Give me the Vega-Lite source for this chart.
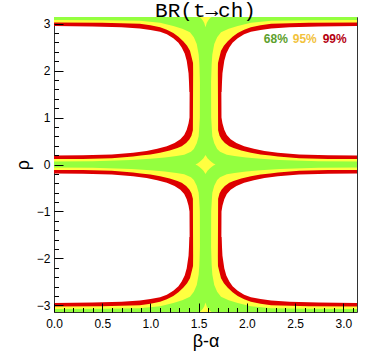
{
"$schema":"https://vega.github.io/schema/vega-lite/v6.json",
"width":303,"height":295,"autosize":"none",
"padding":{"left":54,"top":17,"right":34,"bottom":39},
"background":"white",
"title":{"text":"BR(t→ch)","font":"Liberation Mono","fontSize":21,"fontWeight":"normal","anchor":"middle","offset":-4,"color":"black"},
"config":{"view":{"stroke":"#333","strokeWidth":1}},
"datasets":{
"bands":[
{"l":"99","b":"c","x":0,"lo":-0.19,"hi":0.19},
{"l":"99","b":"c","x":0.3,"lo":-0.195,"hi":0.195},
{"l":"99","b":"c","x":0.6,"lo":-0.215,"hi":0.215},
{"l":"99","b":"c","x":0.82,"lo":-0.25,"hi":0.25},
{"l":"99","b":"c","x":0.96,"lo":-0.29,"hi":0.29},
{"l":"99","b":"c","x":1.07,"lo":-0.335,"hi":0.335},
{"l":"99","b":"c","x":1.17,"lo":-0.39,"hi":0.39},
{"l":"99","b":"c","x":1.25,"lo":-0.46,"hi":0.46},
{"l":"99","b":"c","x":1.31,"lo":-0.54,"hi":0.54},
{"l":"99","b":"c","x":1.35,"lo":-0.63,"hi":0.63},
{"l":"99","b":"c","x":1.376,"lo":-0.74,"hi":0.74},
{"l":"99","b":"c","x":1.395,"lo":-0.88,"hi":0.88},
{"l":"99","b":"c","x":1.405,"lo":-1.0,"hi":1.0},
{"l":"99","b":"c","x":1.41,"lo":-3.1416,"hi":3.1416},
{"l":"99","b":"c","x":1.7316,"lo":-3.1416,"hi":3.1416},
{"l":"99","b":"c","x":1.7366,"lo":-1.0,"hi":1.0},
{"l":"99","b":"c","x":1.7466,"lo":-0.88,"hi":0.88},
{"l":"99","b":"c","x":1.7656,"lo":-0.74,"hi":0.74},
{"l":"99","b":"c","x":1.7916,"lo":-0.63,"hi":0.63},
{"l":"99","b":"c","x":1.8316,"lo":-0.54,"hi":0.54},
{"l":"99","b":"c","x":1.8916,"lo":-0.46,"hi":0.46},
{"l":"99","b":"c","x":1.9716,"lo":-0.39,"hi":0.39},
{"l":"99","b":"c","x":2.0716,"lo":-0.335,"hi":0.335},
{"l":"99","b":"c","x":2.1816,"lo":-0.29,"hi":0.29},
{"l":"99","b":"c","x":2.3216,"lo":-0.25,"hi":0.25},
{"l":"99","b":"c","x":2.5416,"lo":-0.215,"hi":0.215},
{"l":"99","b":"c","x":2.8416,"lo":-0.195,"hi":0.195},
{"l":"99","b":"c","x":3.1416,"lo":-0.19,"hi":0.19},
{"l":"99","b":"t","x":0,"lo":2.9516,"hi":3.1416},
{"l":"99","b":"t","x":0.4,"lo":2.9416,"hi":3.1416},
{"l":"99","b":"t","x":0.7,"lo":2.9216,"hi":3.1416},
{"l":"99","b":"t","x":0.89,"lo":2.8966,"hi":3.1416},
{"l":"99","b":"t","x":1.0,"lo":2.8666,"hi":3.1416},
{"l":"99","b":"t","x":1.1,"lo":2.8266,"hi":3.1416},
{"l":"99","b":"t","x":1.17,"lo":2.7716,"hi":3.1416},
{"l":"99","b":"t","x":1.237,"lo":2.6916,"hi":3.1416},
{"l":"99","b":"t","x":1.29,"lo":2.5916,"hi":3.1416},
{"l":"99","b":"t","x":1.324,"lo":2.4946,"hi":3.1416},
{"l":"99","b":"t","x":1.355,"lo":2.3616,"hi":3.1416},
{"l":"99","b":"t","x":1.376,"lo":2.2116,"hi":3.1416},
{"l":"99","b":"t","x":1.395,"lo":1.9416,"hi":3.1416},
{"l":"99","b":"t","x":1.405,"lo":1.5416,"hi":3.1416},
{"l":"99","b":"t","x":1.7366,"lo":1.5416,"hi":3.1416},
{"l":"99","b":"t","x":1.7466,"lo":1.9416,"hi":3.1416},
{"l":"99","b":"t","x":1.7656,"lo":2.2116,"hi":3.1416},
{"l":"99","b":"t","x":1.7866,"lo":2.3616,"hi":3.1416},
{"l":"99","b":"t","x":1.8176,"lo":2.4946,"hi":3.1416},
{"l":"99","b":"t","x":1.8516,"lo":2.5916,"hi":3.1416},
{"l":"99","b":"t","x":1.9046,"lo":2.6916,"hi":3.1416},
{"l":"99","b":"t","x":1.9716,"lo":2.7716,"hi":3.1416},
{"l":"99","b":"t","x":2.0416,"lo":2.8266,"hi":3.1416},
{"l":"99","b":"t","x":2.1416,"lo":2.8666,"hi":3.1416},
{"l":"99","b":"t","x":2.2516,"lo":2.8966,"hi":3.1416},
{"l":"99","b":"t","x":2.4416,"lo":2.9216,"hi":3.1416},
{"l":"99","b":"t","x":2.7416,"lo":2.9416,"hi":3.1416},
{"l":"99","b":"t","x":3.1416,"lo":2.9516,"hi":3.1416},
{"l":"99","b":"bt","x":0,"lo":-3.1416,"hi":-2.9516},
{"l":"99","b":"bt","x":0.4,"lo":-3.1416,"hi":-2.9416},
{"l":"99","b":"bt","x":0.7,"lo":-3.1416,"hi":-2.9216},
{"l":"99","b":"bt","x":0.89,"lo":-3.1416,"hi":-2.8966},
{"l":"99","b":"bt","x":1.0,"lo":-3.1416,"hi":-2.8666},
{"l":"99","b":"bt","x":1.1,"lo":-3.1416,"hi":-2.8266},
{"l":"99","b":"bt","x":1.17,"lo":-3.1416,"hi":-2.7716},
{"l":"99","b":"bt","x":1.237,"lo":-3.1416,"hi":-2.6916},
{"l":"99","b":"bt","x":1.29,"lo":-3.1416,"hi":-2.5916},
{"l":"99","b":"bt","x":1.324,"lo":-3.1416,"hi":-2.4946},
{"l":"99","b":"bt","x":1.355,"lo":-3.1416,"hi":-2.3616},
{"l":"99","b":"bt","x":1.376,"lo":-3.1416,"hi":-2.2116},
{"l":"99","b":"bt","x":1.395,"lo":-3.1416,"hi":-1.9416},
{"l":"99","b":"bt","x":1.405,"lo":-3.1416,"hi":-1.5416},
{"l":"99","b":"bt","x":1.7366,"lo":-3.1416,"hi":-1.5416},
{"l":"99","b":"bt","x":1.7466,"lo":-3.1416,"hi":-1.9416},
{"l":"99","b":"bt","x":1.7656,"lo":-3.1416,"hi":-2.2116},
{"l":"99","b":"bt","x":1.7866,"lo":-3.1416,"hi":-2.3616},
{"l":"99","b":"bt","x":1.8176,"lo":-3.1416,"hi":-2.4946},
{"l":"99","b":"bt","x":1.8516,"lo":-3.1416,"hi":-2.5916},
{"l":"99","b":"bt","x":1.9046,"lo":-3.1416,"hi":-2.6916},
{"l":"99","b":"bt","x":1.9716,"lo":-3.1416,"hi":-2.7716},
{"l":"99","b":"bt","x":2.0416,"lo":-3.1416,"hi":-2.8266},
{"l":"99","b":"bt","x":2.1416,"lo":-3.1416,"hi":-2.8666},
{"l":"99","b":"bt","x":2.2516,"lo":-3.1416,"hi":-2.8966},
{"l":"99","b":"bt","x":2.4416,"lo":-3.1416,"hi":-2.9216},
{"l":"99","b":"bt","x":2.7416,"lo":-3.1416,"hi":-2.9416},
{"l":"99","b":"bt","x":3.1416,"lo":-3.1416,"hi":-2.9516},
{"l":"95","b":"c","x":0,"lo":-0.115,"hi":0.115},
{"l":"95","b":"c","x":0.3,"lo":-0.118,"hi":0.118},
{"l":"95","b":"c","x":0.6,"lo":-0.133,"hi":0.133},
{"l":"95","b":"c","x":0.82,"lo":-0.17,"hi":0.17},
{"l":"95","b":"c","x":0.9,"lo":-0.19,"hi":0.19},
{"l":"95","b":"c","x":1.0,"lo":-0.215,"hi":0.215},
{"l":"95","b":"c","x":1.1,"lo":-0.25,"hi":0.25},
{"l":"95","b":"c","x":1.2,"lo":-0.3,"hi":0.3},
{"l":"95","b":"c","x":1.28,"lo":-0.35,"hi":0.35},
{"l":"95","b":"c","x":1.324,"lo":-0.39,"hi":0.39},
{"l":"95","b":"c","x":1.37,"lo":-0.46,"hi":0.46},
{"l":"95","b":"c","x":1.403,"lo":-0.53,"hi":0.53},
{"l":"95","b":"c","x":1.425,"lo":-0.61,"hi":0.61},
{"l":"95","b":"c","x":1.44,"lo":-0.73,"hi":0.73},
{"l":"95","b":"c","x":1.445,"lo":-3.1416,"hi":3.1416},
{"l":"95","b":"c","x":1.6966,"lo":-3.1416,"hi":3.1416},
{"l":"95","b":"c","x":1.7016,"lo":-0.73,"hi":0.73},
{"l":"95","b":"c","x":1.7166,"lo":-0.61,"hi":0.61},
{"l":"95","b":"c","x":1.7386,"lo":-0.53,"hi":0.53},
{"l":"95","b":"c","x":1.7716,"lo":-0.46,"hi":0.46},
{"l":"95","b":"c","x":1.8176,"lo":-0.39,"hi":0.39},
{"l":"95","b":"c","x":1.8616,"lo":-0.35,"hi":0.35},
{"l":"95","b":"c","x":1.9416,"lo":-0.3,"hi":0.3},
{"l":"95","b":"c","x":2.0416,"lo":-0.25,"hi":0.25},
{"l":"95","b":"c","x":2.1416,"lo":-0.215,"hi":0.215},
{"l":"95","b":"c","x":2.2416,"lo":-0.19,"hi":0.19},
{"l":"95","b":"c","x":2.3216,"lo":-0.17,"hi":0.17},
{"l":"95","b":"c","x":2.5416,"lo":-0.133,"hi":0.133},
{"l":"95","b":"c","x":2.8416,"lo":-0.118,"hi":0.118},
{"l":"95","b":"c","x":3.1416,"lo":-0.115,"hi":0.115},
{"l":"95","b":"t","x":0,"lo":3.0266,"hi":3.1416},
{"l":"95","b":"t","x":0.5,"lo":3.0216,"hi":3.1416},
{"l":"95","b":"t","x":0.89,"lo":2.9966,"hi":3.1416},
{"l":"95","b":"t","x":1.0,"lo":2.9666,"hi":3.1416},
{"l":"95","b":"t","x":1.1,"lo":2.9216,"hi":3.1416},
{"l":"95","b":"t","x":1.17,"lo":2.8716,"hi":3.1416},
{"l":"95","b":"t","x":1.237,"lo":2.8016,"hi":3.1416},
{"l":"95","b":"t","x":1.29,"lo":2.7216,"hi":3.1416},
{"l":"95","b":"t","x":1.34,"lo":2.6256,"hi":3.1416},
{"l":"95","b":"t","x":1.38,"lo":2.5316,"hi":3.1416},
{"l":"95","b":"t","x":1.41,"lo":2.4216,"hi":3.1416},
{"l":"95","b":"t","x":1.444,"lo":2.1416,"hi":3.1416},
{"l":"95","b":"t","x":1.455,"lo":1.8416,"hi":3.1416},
{"l":"95","b":"t","x":1.46,"lo":1.5416,"hi":3.1416},
{"l":"95","b":"t","x":1.6816,"lo":1.5416,"hi":3.1416},
{"l":"95","b":"t","x":1.6866,"lo":1.8416,"hi":3.1416},
{"l":"95","b":"t","x":1.6976,"lo":2.1416,"hi":3.1416},
{"l":"95","b":"t","x":1.7316,"lo":2.4216,"hi":3.1416},
{"l":"95","b":"t","x":1.7616,"lo":2.5316,"hi":3.1416},
{"l":"95","b":"t","x":1.8016,"lo":2.6256,"hi":3.1416},
{"l":"95","b":"t","x":1.8516,"lo":2.7216,"hi":3.1416},
{"l":"95","b":"t","x":1.9046,"lo":2.8016,"hi":3.1416},
{"l":"95","b":"t","x":1.9716,"lo":2.8716,"hi":3.1416},
{"l":"95","b":"t","x":2.0416,"lo":2.9216,"hi":3.1416},
{"l":"95","b":"t","x":2.1416,"lo":2.9666,"hi":3.1416},
{"l":"95","b":"t","x":2.2516,"lo":2.9966,"hi":3.1416},
{"l":"95","b":"t","x":2.6416,"lo":3.0216,"hi":3.1416},
{"l":"95","b":"t","x":3.1416,"lo":3.0266,"hi":3.1416},
{"l":"95","b":"bt","x":0,"lo":-3.1416,"hi":-3.0266},
{"l":"95","b":"bt","x":0.5,"lo":-3.1416,"hi":-3.0216},
{"l":"95","b":"bt","x":0.89,"lo":-3.1416,"hi":-2.9966},
{"l":"95","b":"bt","x":1.0,"lo":-3.1416,"hi":-2.9666},
{"l":"95","b":"bt","x":1.1,"lo":-3.1416,"hi":-2.9216},
{"l":"95","b":"bt","x":1.17,"lo":-3.1416,"hi":-2.8716},
{"l":"95","b":"bt","x":1.237,"lo":-3.1416,"hi":-2.8016},
{"l":"95","b":"bt","x":1.29,"lo":-3.1416,"hi":-2.7216},
{"l":"95","b":"bt","x":1.34,"lo":-3.1416,"hi":-2.6256},
{"l":"95","b":"bt","x":1.38,"lo":-3.1416,"hi":-2.5316},
{"l":"95","b":"bt","x":1.41,"lo":-3.1416,"hi":-2.4216},
{"l":"95","b":"bt","x":1.444,"lo":-3.1416,"hi":-2.1416},
{"l":"95","b":"bt","x":1.455,"lo":-3.1416,"hi":-1.8416},
{"l":"95","b":"bt","x":1.46,"lo":-3.1416,"hi":-1.5416},
{"l":"95","b":"bt","x":1.6816,"lo":-3.1416,"hi":-1.5416},
{"l":"95","b":"bt","x":1.6866,"lo":-3.1416,"hi":-1.8416},
{"l":"95","b":"bt","x":1.6976,"lo":-3.1416,"hi":-2.1416},
{"l":"95","b":"bt","x":1.7316,"lo":-3.1416,"hi":-2.4216},
{"l":"95","b":"bt","x":1.7616,"lo":-3.1416,"hi":-2.5316},
{"l":"95","b":"bt","x":1.8016,"lo":-3.1416,"hi":-2.6256},
{"l":"95","b":"bt","x":1.8516,"lo":-3.1416,"hi":-2.7216},
{"l":"95","b":"bt","x":1.9046,"lo":-3.1416,"hi":-2.8016},
{"l":"95","b":"bt","x":1.9716,"lo":-3.1416,"hi":-2.8716},
{"l":"95","b":"bt","x":2.0416,"lo":-3.1416,"hi":-2.9216},
{"l":"95","b":"bt","x":2.1416,"lo":-3.1416,"hi":-2.9666},
{"l":"95","b":"bt","x":2.2516,"lo":-3.1416,"hi":-2.9966},
{"l":"95","b":"bt","x":2.6416,"lo":-3.1416,"hi":-3.0216},
{"l":"95","b":"bt","x":3.1416,"lo":-3.1416,"hi":-3.0266},
{"l":"68","b":"c","x":0,"lo":-0.065,"hi":0.065},
{"l":"68","b":"c","x":0.4,"lo":-0.07,"hi":0.07},
{"l":"68","b":"c","x":0.8,"lo":-0.095,"hi":0.095},
{"l":"68","b":"c","x":1.0,"lo":-0.12,"hi":0.12},
{"l":"68","b":"c","x":1.15,"lo":-0.15,"hi":0.15},
{"l":"68","b":"c","x":1.27,"lo":-0.18,"hi":0.18},
{"l":"68","b":"c","x":1.35,"lo":-0.21,"hi":0.21},
{"l":"68","b":"c","x":1.42,"lo":-0.27,"hi":0.27},
{"l":"68","b":"c","x":1.45,"lo":-0.33,"hi":0.33},
{"l":"68","b":"c","x":1.48,"lo":-0.45,"hi":0.45},
{"l":"68","b":"c","x":1.5,"lo":-0.6,"hi":0.6},
{"l":"68","b":"c","x":1.505,"lo":-0.75,"hi":0.75},
{"l":"68","b":"c","x":1.512,"lo":-1.0,"hi":1.0},
{"l":"68","b":"c","x":1.515,"lo":-3.1416,"hi":3.1416},
{"l":"68","b":"c","x":1.6266,"lo":-3.1416,"hi":3.1416},
{"l":"68","b":"c","x":1.6296,"lo":-1.0,"hi":1.0},
{"l":"68","b":"c","x":1.6366,"lo":-0.75,"hi":0.75},
{"l":"68","b":"c","x":1.6416,"lo":-0.6,"hi":0.6},
{"l":"68","b":"c","x":1.6616,"lo":-0.45,"hi":0.45},
{"l":"68","b":"c","x":1.6916,"lo":-0.33,"hi":0.33},
{"l":"68","b":"c","x":1.7216,"lo":-0.27,"hi":0.27},
{"l":"68","b":"c","x":1.7916,"lo":-0.21,"hi":0.21},
{"l":"68","b":"c","x":1.8716,"lo":-0.18,"hi":0.18},
{"l":"68","b":"c","x":1.9916,"lo":-0.15,"hi":0.15},
{"l":"68","b":"c","x":2.1416,"lo":-0.12,"hi":0.12},
{"l":"68","b":"c","x":2.3416,"lo":-0.095,"hi":0.095},
{"l":"68","b":"c","x":2.7416,"lo":-0.07,"hi":0.07},
{"l":"68","b":"c","x":3.1416,"lo":-0.065,"hi":0.065},
{"l":"68","b":"t","x":0,"lo":3.0766,"hi":3.1416},
{"l":"68","b":"t","x":0.5,"lo":3.0736,"hi":3.1416},
{"l":"68","b":"t","x":0.89,"lo":3.0616,"hi":3.1416},
{"l":"68","b":"t","x":1.1,"lo":3.0166,"hi":3.1416},
{"l":"68","b":"t","x":1.237,"lo":2.9516,"hi":3.1416},
{"l":"68","b":"t","x":1.33,"lo":2.8916,"hi":3.1416},
{"l":"68","b":"t","x":1.41,"lo":2.8146,"hi":3.1416},
{"l":"68","b":"t","x":1.45,"lo":2.7116,"hi":3.1416},
{"l":"68","b":"t","x":1.48,"lo":2.5646,"hi":3.1416},
{"l":"68","b":"t","x":1.5,"lo":2.3416,"hi":3.1416},
{"l":"68","b":"t","x":1.507,"lo":2.1416,"hi":3.1416},
{"l":"68","b":"t","x":1.514,"lo":1.7416,"hi":3.1416},
{"l":"68","b":"t","x":1.518,"lo":1.5416,"hi":3.1416},
{"l":"68","b":"t","x":1.6236,"lo":1.5416,"hi":3.1416},
{"l":"68","b":"t","x":1.6276,"lo":1.7416,"hi":3.1416},
{"l":"68","b":"t","x":1.6346,"lo":2.1416,"hi":3.1416},
{"l":"68","b":"t","x":1.6416,"lo":2.3416,"hi":3.1416},
{"l":"68","b":"t","x":1.6616,"lo":2.5646,"hi":3.1416},
{"l":"68","b":"t","x":1.6916,"lo":2.7116,"hi":3.1416},
{"l":"68","b":"t","x":1.7316,"lo":2.8146,"hi":3.1416},
{"l":"68","b":"t","x":1.8116,"lo":2.8916,"hi":3.1416},
{"l":"68","b":"t","x":1.9046,"lo":2.9516,"hi":3.1416},
{"l":"68","b":"t","x":2.0416,"lo":3.0166,"hi":3.1416},
{"l":"68","b":"t","x":2.2516,"lo":3.0616,"hi":3.1416},
{"l":"68","b":"t","x":2.6416,"lo":3.0736,"hi":3.1416},
{"l":"68","b":"t","x":3.1416,"lo":3.0766,"hi":3.1416},
{"l":"68","b":"bt","x":0,"lo":-3.1416,"hi":-3.0766},
{"l":"68","b":"bt","x":0.5,"lo":-3.1416,"hi":-3.0736},
{"l":"68","b":"bt","x":0.89,"lo":-3.1416,"hi":-3.0616},
{"l":"68","b":"bt","x":1.1,"lo":-3.1416,"hi":-3.0166},
{"l":"68","b":"bt","x":1.237,"lo":-3.1416,"hi":-2.9516},
{"l":"68","b":"bt","x":1.33,"lo":-3.1416,"hi":-2.8916},
{"l":"68","b":"bt","x":1.41,"lo":-3.1416,"hi":-2.8146},
{"l":"68","b":"bt","x":1.45,"lo":-3.1416,"hi":-2.7116},
{"l":"68","b":"bt","x":1.48,"lo":-3.1416,"hi":-2.5646},
{"l":"68","b":"bt","x":1.5,"lo":-3.1416,"hi":-2.3416},
{"l":"68","b":"bt","x":1.507,"lo":-3.1416,"hi":-2.1416},
{"l":"68","b":"bt","x":1.514,"lo":-3.1416,"hi":-1.7416},
{"l":"68","b":"bt","x":1.518,"lo":-3.1416,"hi":-1.5416},
{"l":"68","b":"bt","x":1.6236,"lo":-3.1416,"hi":-1.5416},
{"l":"68","b":"bt","x":1.6276,"lo":-3.1416,"hi":-1.7416},
{"l":"68","b":"bt","x":1.6346,"lo":-3.1416,"hi":-2.1416},
{"l":"68","b":"bt","x":1.6416,"lo":-3.1416,"hi":-2.3416},
{"l":"68","b":"bt","x":1.6616,"lo":-3.1416,"hi":-2.5646},
{"l":"68","b":"bt","x":1.6916,"lo":-3.1416,"hi":-2.7116},
{"l":"68","b":"bt","x":1.7316,"lo":-3.1416,"hi":-2.8146},
{"l":"68","b":"bt","x":1.8116,"lo":-3.1416,"hi":-2.8916},
{"l":"68","b":"bt","x":1.9046,"lo":-3.1416,"hi":-2.9516},
{"l":"68","b":"bt","x":2.0416,"lo":-3.1416,"hi":-3.0166},
{"l":"68","b":"bt","x":2.2516,"lo":-3.1416,"hi":-3.0616},
{"l":"68","b":"bt","x":2.6416,"lo":-3.1416,"hi":-3.0736},
{"l":"68","b":"bt","x":3.1416,"lo":-3.1416,"hi":-3.0766},
{"l":"f","b":"dm","x":1.4668,"lo":0,"hi":0},
{"l":"f","b":"dm","x":1.4876,"lo":-0.021,"hi":0.021},
{"l":"f","b":"dm","x":1.5084,"lo":-0.051,"hi":0.051},
{"l":"f","b":"dm","x":1.5292,"lo":-0.088,"hi":0.088},
{"l":"f","b":"dm","x":1.55,"lo":-0.134,"hi":0.134},
{"l":"f","b":"dm","x":1.5708,"lo":-0.2,"hi":0.2},
{"l":"f","b":"dm","x":1.5916,"lo":-0.134,"hi":0.134},
{"l":"f","b":"dm","x":1.6124,"lo":-0.088,"hi":0.088},
{"l":"f","b":"dm","x":1.6332,"lo":-0.051,"hi":0.051},
{"l":"f","b":"dm","x":1.654,"lo":-0.021,"hi":0.021},
{"l":"f","b":"dm","x":1.6748,"lo":0,"hi":0},
{"l":"f","b":"st","x":1.5058,"lo":3.1416,"hi":3.1416},
{"l":"f","b":"st","x":1.5188,"lo":3.1236,"hi":3.1416},
{"l":"f","b":"st","x":1.5318,"lo":3.0966,"hi":3.1416},
{"l":"f","b":"st","x":1.5448,"lo":3.0616,"hi":3.1416},
{"l":"f","b":"st","x":1.5578,"lo":3.0116,"hi":3.1416},
{"l":"f","b":"st","x":1.5708,"lo":2.9216,"hi":3.1416},
{"l":"f","b":"st","x":1.5838,"lo":3.0116,"hi":3.1416},
{"l":"f","b":"st","x":1.5968,"lo":3.0616,"hi":3.1416},
{"l":"f","b":"st","x":1.6098,"lo":3.0966,"hi":3.1416},
{"l":"f","b":"st","x":1.6228,"lo":3.1236,"hi":3.1416},
{"l":"f","b":"st","x":1.6358,"lo":3.1416,"hi":3.1416},
{"l":"f","b":"sb","x":1.5058,"lo":-3.1416,"hi":-3.1416},
{"l":"f","b":"sb","x":1.5188,"lo":-3.1416,"hi":-3.1256},
{"l":"f","b":"sb","x":1.5318,"lo":-3.1416,"hi":-3.1006},
{"l":"f","b":"sb","x":1.5448,"lo":-3.1416,"hi":-3.0686},
{"l":"f","b":"sb","x":1.5578,"lo":-3.1416,"hi":-3.0236},
{"l":"f","b":"sb","x":1.5708,"lo":-3.1416,"hi":-2.9416},
{"l":"f","b":"sb","x":1.5838,"lo":-3.1416,"hi":-3.0236},
{"l":"f","b":"sb","x":1.5968,"lo":-3.1416,"hi":-3.0686},
{"l":"f","b":"sb","x":1.6098,"lo":-3.1416,"hi":-3.1006},
{"l":"f","b":"sb","x":1.6228,"lo":-3.1416,"hi":-3.1256},
{"l":"f","b":"sb","x":1.6358,"lo":-3.1416,"hi":-3.1416}
],
"leg":[
{"x":2.30,"y":2.67,"t":"68%"},
{"x":2.60,"y":2.67,"t":"95%"},
{"x":2.91,"y":2.67,"t":"99%"}
]},
"layer":[
{"data":{"name":"bands"},"transform":[{"filter":"datum.l == '99'"}],
 "mark":{"type":"area","color":"#dd0000","clip":true},
 "encoding":{
  "x":{"field":"x","type":"quantitative","scale":{"domain":[0,3.1416],"nice":false,"zero":false},
   "axis":{"orient":"bottom","values":[0,0.5,1,1.5,2,2.5,3],"format":".1f","tickSize":-9,"tickColor":"black","domain":false,"grid":false,"labelFont":"Liberation Sans","labelFontSize":12,"labelColor":"black","labelPadding":15,"labelFlush":false,"labelOverlap":false,"title":"β-α","titleFont":"Liberation Sans","titleFontSize":18,"titleFontWeight":"normal","titleColor":"black","titlePadding":3,"zindex":1}},
  "y":{"field":"lo","type":"quantitative","scale":{"domain":[-3.1416,3.1416],"nice":false,"zero":false},
   "axis":{"orient":"left","values":[-3,-2,-1,0,1,2,3],"tickSize":-9,"tickColor":"black","domain":false,"grid":false,"labelFont":"Liberation Sans","labelFontSize":12,"labelColor":"black","labelPadding":13,"labelFlush":false,"labelOverlap":false,"title":"ρ","titleFont":"Liberation Sans","titleFontSize":18,"titleFontWeight":"normal","titleColor":"black","titlePadding":4,"zindex":1}},
  "y2":{"field":"hi"},
  "detail":{"field":"b"}}},
{"data":{"name":"bands"},"transform":[{"filter":"datum.l == '95'"}],
 "mark":{"type":"area","color":"#ffff40","clip":true},
 "encoding":{
  "x":{"field":"x","type":"quantitative",
   "axis":{"orient":"bottom","values":[0.1,0.2,0.3,0.4,0.6,0.7,0.8,0.9,1.1,1.2,1.3,1.4,1.6,1.7,1.8,1.9,2.1,2.2,2.3,2.4,2.6,2.7,2.8,2.9,3.1],"tickSize":-4.5,"tickColor":"black","labels":false,"domain":false,"grid":false,"title":null,"zindex":1}},
  "y":{"field":"lo","type":"quantitative",
   "axis":{"orient":"left","values":[-2.8,-2.6,-2.4,-2.2,-1.8,-1.6,-1.4,-1.2,-0.8,-0.6,-0.4,-0.2,0.2,0.4,0.6,0.8,1.2,1.4,1.6,1.8,2.2,2.4,2.6,2.8],"tickSize":-4.5,"tickColor":"black","labels":false,"domain":false,"grid":false,"title":null,"zindex":1}},
  "y2":{"field":"hi"},
  "detail":{"field":"b"}}},
{"data":{"name":"bands"},"transform":[{"filter":"datum.l == '68'"}],
 "mark":{"type":"area","color":"#94ff3f","clip":true},
 "encoding":{
  "x":{"field":"x","type":"quantitative","axis":null},
  "y":{"field":"lo","type":"quantitative","axis":null},
  "y2":{"field":"hi"},
  "detail":{"field":"b"}}},
{"data":{"name":"bands"},"transform":[{"filter":"datum.l == 'f'"}],
 "mark":{"type":"area","color":"#ffff40","clip":true},
 "encoding":{
  "x":{"field":"x","type":"quantitative","axis":null},
  "y":{"field":"lo","type":"quantitative","axis":null},
  "y2":{"field":"hi"},
  "detail":{"field":"b"}}},
{"data":{"name":"leg"},
 "mark":{"type":"text","font":"Liberation Sans","fontSize":12,"fontWeight":"bold","align":"center","baseline":"middle"},
 "encoding":{
  "x":{"field":"x","type":"quantitative","axis":null},
  "y":{"field":"y","type":"quantitative","axis":null},
  "text":{"field":"t"},
  "color":{"field":"t","type":"nominal","scale":{"domain":["68%","95%","99%"],"range":["#5ca02c","#f2c23c","#b40010"]},"legend":null}}}
],
"resolve":{"axis":{"x":"independent","y":"independent"}}
}
